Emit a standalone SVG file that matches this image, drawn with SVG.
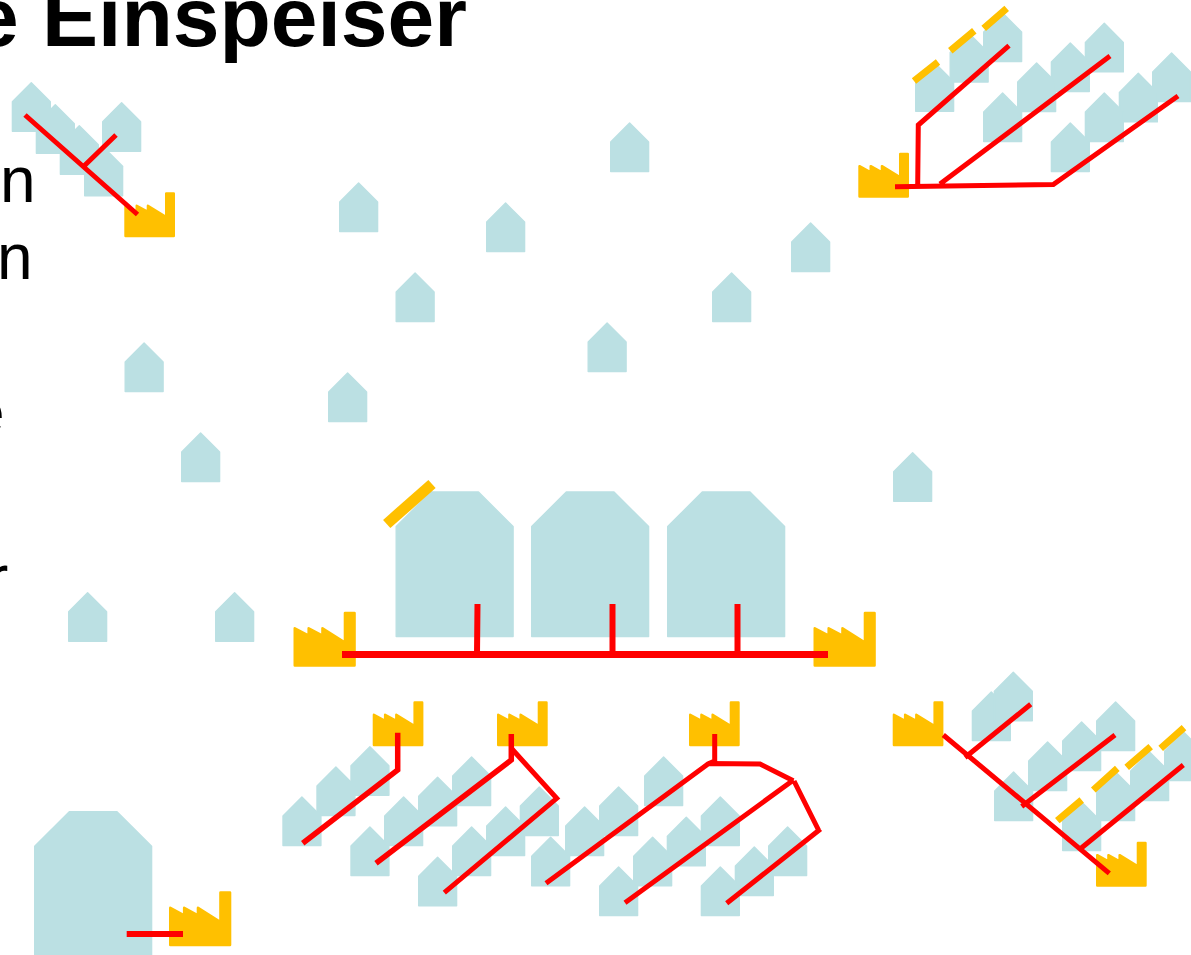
<svg xmlns="http://www.w3.org/2000/svg" xmlns:xlink="http://www.w3.org/1999/xlink" width="1191" height="955" viewBox="0 0 1191 955">
<style>
.h{fill:#BBE0E3;stroke:#BBE0E3;stroke-linejoin:round}
.f{fill:#FFC000;stroke:#FFC000;stroke-linejoin:round}
.r{fill:none;stroke:#FF0000;stroke-width:5;stroke-linejoin:miter}
.p{fill:none;stroke:#FFC000;stroke-width:7}
.t{font-family:"Liberation Sans",Arial,sans-serif;fill:#000}
.b{font-size:84px;font-weight:700}
.n{font-size:64px}
</style>
<defs>
<path id="house" class="h" stroke-width="1.4" d="M.7 19.8 19.6.7 38.6 19.8V49.3H.7Z"/>
<path id="big" class="h" stroke-width="1.4" d="M.7 35.3 35.3.7H83L117.6 35.3V145.3H.7Z"/>
<path id="fac" class="f" stroke-width="2.4" d="M1.2 13.4 12.4 19.6V13.4L23.6 19.6V13.4L41.9 24.6V1.2H49.5V43.8H1.2Z"/>
<path id="facB" class="f" stroke-width="2.6" d="M1.3 16.6 15.2 24V16.6L29 24V16.6L51.5 30.8V1.3H61V53.7H1.3Z"/>
</defs>
<text class="t b" x="-28" y="46">e Einspeiser</text>
<text class="t n" x="0" y="201.5">n</text>
<text class="t n" x="-3" y="279">n</text>
<text class="t n" x="-31" y="434">e</text>
<text class="t n" x="-13" y="600">r</text>
<g id="houses-top-left">
<g id="h01"><use href="#house" x="11.7" y="82"/></g>
<g id="h02"><use href="#house" x="35.7" y="104"/></g>
<g id="h03"><use href="#house" x="59.7" y="125"/></g>
<g id="h04"><use href="#house" x="102" y="102"/></g>
<g id="h05"><use href="#house" x="84" y="146.5"/></g>
</g>
<g id="houses-top-right">
<g id="h06"><use href="#house" x="915" y="62"/></g>
<g id="h07"><use href="#house" x="949.5" y="32.7"/></g>
<g id="h08"><use href="#house" x="983" y="12.3"/></g>
<g id="h09"><use href="#house" x="1084.7" y="22.6"/></g>
<g id="h10"><use href="#house" x="1050.7" y="42.3"/></g>
<g id="h11"><use href="#house" x="1017" y="62.3"/></g>
<g id="h12"><use href="#house" x="983" y="92.3"/></g>
<g id="h13"><use href="#house" x="1152" y="52.3"/></g>
<g id="h14"><use href="#house" x="1118.7" y="72.6"/></g>
<g id="h15"><use href="#house" x="1084.7" y="92.3"/></g>
<g id="h16"><use href="#house" x="1050.7" y="122.3"/></g>
</g>
<g id="houses-scattered">
<g id="h17"><use href="#house" x="610" y="122.3"/></g>
<g id="h18"><use href="#house" x="339" y="182.3"/></g>
<g id="h19"><use href="#house" x="486" y="202.3"/></g>
<g id="h20"><use href="#house" x="791" y="222.3"/></g>
<g id="h21"><use href="#house" x="395.5" y="272.3"/></g>
<g id="h22"><use href="#house" x="712" y="272.3"/></g>
<g id="h23"><use href="#house" x="587.5" y="322.3"/></g>
<g id="h24"><use href="#house" x="124.5" y="342.3"/></g>
<g id="h25"><use href="#house" x="328" y="372.3"/></g>
<g id="h26"><use href="#house" x="181" y="432.3"/></g>
<g id="h27"><use href="#house" x="893" y="452"/></g>
<g id="h28"><use href="#house" x="68" y="592"/></g>
<g id="h29"><use href="#house" x="215" y="592"/></g>
</g>
<g id="large-houses">
<g id="lh1"><use href="#big" x="395.5" y="491.3"/></g>
<g id="lh2"><use href="#big" x="531" y="491.3"/></g>
<g id="lh3"><use href="#big" x="667" y="491.3"/></g>
<g id="lh4"><use href="#big" x="34" y="811"/></g>
</g>
<g id="houses-bottom-middle">
<g id="h30"><use href="#house" x="350.3" y="746"/></g>
<g id="h31"><use href="#house" x="316.3" y="766.3"/></g>
<g id="h32"><use href="#house" x="282.3" y="796.3"/></g>
<g id="h33"><use href="#house" x="452" y="756.3"/></g>
<g id="h34"><use href="#house" x="418" y="776.5"/></g>
<g id="h35"><use href="#house" x="384" y="796.3"/></g>
<g id="h36"><use href="#house" x="350.3" y="826.3"/></g>
<g id="h37"><use href="#house" x="519.7" y="786.3"/></g>
<g id="h38"><use href="#house" x="486" y="806.3"/></g>
<g id="h39"><use href="#house" x="452" y="826.3"/></g>
<g id="h40"><use href="#house" x="418" y="856.5"/></g>
<g id="h41"><use href="#house" x="644" y="756.3"/></g>
<g id="h42"><use href="#house" x="599" y="786.3"/></g>
<g id="h43"><use href="#house" x="565" y="806.3"/></g>
<g id="h44"><use href="#house" x="531" y="836.5"/></g>
<g id="h45"><use href="#house" x="700.7" y="796.3"/></g>
<g id="h46"><use href="#house" x="666.7" y="816.5"/></g>
<g id="h47"><use href="#house" x="633" y="836.5"/></g>
<g id="h48"><use href="#house" x="599" y="866.3"/></g>
<g id="h49"><use href="#house" x="768" y="826.3"/></g>
<g id="h50"><use href="#house" x="734.7" y="846.3"/></g>
<g id="h51"><use href="#house" x="700.7" y="866.3"/></g>
</g>
<g id="houses-bottom-right">
<g id="h52"><use href="#house" x="971.7" y="691.3"/></g>
<g id="h53"><use href="#house" x="993.7" y="671.5"/></g>
<g id="h54"><use href="#house" x="1096" y="701.3"/></g>
<g id="h55"><use href="#house" x="1062" y="721.3"/></g>
<g id="h56"><use href="#house" x="1028" y="741.3"/></g>
<g id="h57"><use href="#house" x="994" y="771.3"/></g>
<g id="h58"><use href="#house" x="1164" y="731.3"/></g>
<g id="h59"><use href="#house" x="1130" y="751.3"/></g>
<g id="h60"><use href="#house" x="1096" y="771.3"/></g>
<g id="h61"><use href="#house" x="1062" y="801.3"/></g>
</g>
<g id="factories">
<g id="f1"><use href="#fac" x="124.3" y="192.3"/></g>
<g id="f2"><use href="#fac" x="858.3" y="152.7"/></g>
<g id="f3"><use href="#fac" x="372.7" y="701.3"/></g>
<g id="f4"><use href="#fac" x="497" y="701.3"/></g>
<g id="f5"><use href="#fac" x="689" y="701.3"/></g>
<g id="f6"><use href="#fac" x="892.7" y="701.3"/></g>
<g id="f7"><use href="#fac" x="1096" y="841.7"/></g>
<g id="f8"><use href="#facB" x="293.5" y="611.7"/></g>
<g id="f9"><use href="#facB" x="813.5" y="611.7"/></g>
<g id="f10"><use href="#facB" x="169" y="891.3"/></g>
</g>
<g id="solar-panels">
<path class="p" d="M914 81 938 62M950.3 50.7 974.3 30.7M983.7 28.3 1006.7 8.3"/>
<path class="p" d="M1057.3 820.7 1081.7 800M1093.3 790 1117.3 768.3M1126.7 767.3 1150.7 746.7M1160.7 748.3 1184 727.7"/>
<path class="p" stroke-width="11" style="stroke-width:11" d="M386.7 524 432 484"/>
</g>
<g id="connectors">
<path class="r" d="M25 115 137.5 214.5M83 167 116 135"/>
<path class="r" d="M895 186.7 1053.3 184.5 1178 96M917.7 185 918.3 125 1009 45.7M940 184 1110 56"/>
<path class="r" style="stroke-width:7" d="M342 654.5H828"/>
<path class="r" style="stroke-width:6" d="M477 654 477.5 604M612.5 654V604M737.5 654V604"/>
<path class="r" style="stroke-width:5.5" d="M397.7 732.7V770L302.7 843.3M511.3 734V760L376 863.3"/>
<path class="r" d="M511.3 748.3 556.7 798.3 444.3 892.7"/>
<path class="r" d="M714.7 734V761L708 764 546 883.3M708 763.5 760 764 793.3 780.7M793.5 780 625 902.7M794 781 818.5 830M820.5 829 726.7 903.3"/>
<path class="r" d="M943.3 735 1109.3 873.3M965 757.5 1030.7 704.3M1021.7 806.5 1115 735M1081 848.3 1183.3 765"/>
<path class="r" style="stroke-width:6" d="M126.7 934H183"/>
</g>
</svg>
